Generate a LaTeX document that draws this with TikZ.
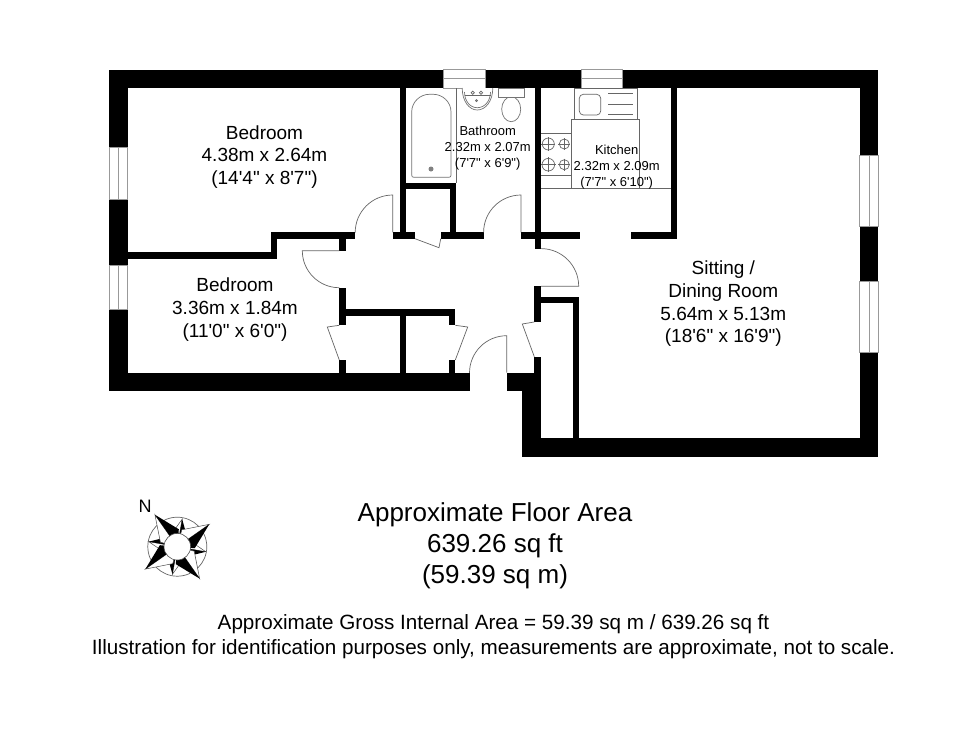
\documentclass[tikz,border=0pt]{standalone}
\usepackage{fontspec}
\usetikzlibrary{calc}
\setmainfont{Liberation Sans}
\newfontfamily\lblfont{Liberation Sans}
\newcommand{\wallrect}[4]{\fill[wallfill] (#1,#2) rectangle (#3,#4);}
\begin{document}
\begin{tikzpicture}[x=1pt,y=-1pt,
  wallfill/.style={fill=black,draw=none},
  thin line/.style={draw=black!60,line width=0.7pt},
  window line/.style={draw=black!40,line width=0.8pt},
  fixture/.style={draw=black!55,line width=0.7pt,fill=white},
  bigtext/.style={align=center,inner sep=0pt,text=black,font=\lblfont\fontsize{19}{22.8}\selectfont},
  smalltext/.style={align=center,inner sep=0pt,text=black,font=\lblfont\fontsize{13}{15.8}\selectfont},
  areatext/.style={align=center,inner sep=0pt,text=black,font=\lblfont\fontsize{26}{31}\selectfont},
  notetext/.style={align=center,inner sep=0pt,text=black,font=\lblfont\fontsize{20.65}{25}\selectfont}]
\useasboundingbox (0,0) rectangle (980,729);
\fill[white] (0,0) rectangle (980,729);
% ---- outer walls
\wallrect{109}{69.5}{878.3}{88}
\wallrect{109}{69.5}{127.5}{391}
\wallrect{859.7}{69.5}{878.3}{457}
\wallrect{109}{372.7}{469.5}{391}
\wallrect{506.7}{372.7}{540.7}{391}
\wallrect{522.3}{372.7}{540.7}{457}
\wallrect{522.3}{438.3}{878.3}{457}
% ---- bedroom divider
\wallrect{127.5}{252.3}{277.3}{259}
\wallrect{271}{232.3}{277.3}{259}
\wallrect{271}{232.3}{355}{238.7}
% ---- hall left wall and cupboards
\wallrect{339.3}{238.7}{346}{250.7}
\wallrect{339.3}{287.7}{346}{325.3}
\wallrect{339.3}{309}{455.3}{315.7}
\wallrect{449}{309}{455.3}{325.3}
\wallrect{399.7}{309}{406.3}{372.7}
\wallrect{339.3}{360}{346}{372.7}
\wallrect{449}{360}{455.3}{372.7}
% ---- bathroom walls
\wallrect{399.7}{88}{406.3}{238.7}
\wallrect{450}{183.3}{456.3}{238.7}
\wallrect{399.7}{183.3}{456.3}{189.3}
\wallrect{392.7}{232.3}{415}{238.7}
\wallrect{440.7}{232.3}{483.7}{238.7}
\wallrect{521}{232.3}{580}{238.7}
\wallrect{534.7}{88}{541}{248.7}
% ---- kitchen walls
\wallrect{630.7}{232.3}{677.3}{238.7}
\wallrect{671}{88}{677.3}{238.7}
% ---- right hall walls
\wallrect{534.3}{286.3}{540.7}{322}
\wallrect{534.3}{356.7}{540.7}{391}
\wallrect{534.3}{296.7}{579.3}{302.7}
\wallrect{573.3}{296.7}{579.3}{438.3}
% ---- windows
\foreach \ya/\yb in {147.3/199.3,265/309.3}{
  \draw[window line,fill=white] (109,\ya) rectangle (127.5,\yb);
  \draw[window line] (118,\ya) -- (118,\yb);
}
\foreach \ya/\yb in {155.3/226.7,281/352.7}{
  \draw[window line,fill=white] (859.7,\ya) rectangle (878.3,\yb);
  \draw[window line] (869,\ya) -- (869,\yb);
}
\foreach \xa/\xb in {443.3/485.7,581.3/622.7}{
  \draw[window line,fill=white] (\xa,69.5) rectangle (\xb,88);
  \draw[window line] (\xa,78.3) -- (\xb,78.3);
}
% ---- doors
\draw[thin line] (392.7,232.3) -- (392.7,195) arc[start angle=90,end angle=180,radius=37.5pt];
\draw[thin line] (339.3,250.7) -- (302.3,250.7) arc[start angle=180,end angle=270,radius=37pt];
\draw[thin line] (521,232.3) -- (521,195) arc[start angle=90,end angle=180,radius=37.4pt];
\draw[thin line] (541,286.3) -- (578.7,286.3) arc[start angle=0,end angle=90,radius=37.7pt];
\draw[thin line] (506.7,372.7) -- (506.7,335.7) arc[start angle=90,end angle=180,radius=37.2pt];
\draw[thin line] (415,238.7) -- (439,247.7) -- (440.7,238.7);
\draw[thin line] (339.3,325.3) -- (327.3,327) -- (339.3,360);
\draw[thin line] (455.3,325.3) -- (467.7,327) -- (455.3,360);
\draw[thin line] (534.3,322) -- (522.3,324) -- (534.3,356.7);
% ---- bathroom fixtures
\draw[thin line] (456.3,88) -- (456.3,183.3);
\draw[fixture,rounded corners=2pt] (411.7,177.3) -- (411.7,113.9) .. controls (411.7,102) and (420,94.3) .. (431.35,94.3) .. controls (442.7,94.3) and (451,102) .. (451,113.9) -- (451,177.3) -- cycle;
\fill[black!50] (431,169) circle[radius=2.5pt];
\draw[fixture] (462.2,88) .. controls (462.2,101) and (469,110) .. (477.3,110) .. controls (485.6,110) and (492.8,101) .. (492.8,88);
\draw[fixture] (464.5,92) .. controls (464.5,101) and (470,107.7) .. (477.3,107.7) .. controls (484.6,107.7) and (490.5,101) .. (490.5,92);
\draw[thin line] (464.5,95) -- (490.5,95);
\draw[thin line,fill=white] (472.7,92.7) circle[radius=1.6pt];
\draw[thin line,fill=white] (481,92.7) circle[radius=1.6pt];
\draw[thin line] (476.5,100.7) circle[radius=1pt];
\draw[fixture] (511.2,109.2) ellipse[x radius=9.5pt,y radius=12.5pt];
\draw[fixture] (498.3,88) rectangle (524.3,97.7);
% ---- kitchen fixtures
\draw[thin line] (574.3,88) rectangle (637.3,119.3);
\draw[thin line,rounded corners=4pt] (579.3,94.3) rectangle (600.7,115);
\foreach \y in {93.7,104,114.3}{\draw[thin line] (608.3,\y) -- (633.3,\y);}
\draw[thin line] (571.7,188.3) -- (571.7,119.3) -- (639.7,119.3) -- (639.7,188.3);
\draw[thin line] (541,188.3) -- (671,188.3);
\draw[thin line] (541,133.3) -- (571.7,133.3);
\draw[thin line] (541,175.3) -- (571.7,175.3);
\foreach \cx/\cy/\r in {548.3/144/6,564.3/144/5,548.3/164.7/6.3,564.3/164.7/5}{
  \draw[thin line] (\cx,\cy) circle[radius=\r pt];
  \draw[thin line] (\cx-\r-1,\cy) -- (\cx+\r+1,\cy);
  \draw[thin line] (\cx,\cy-\r-1) -- (\cx,\cy+\r+1);
}
% ---- compass
\coordinate (cc) at (177.3,546.7);
\draw[draw=black!60,line width=0.7pt] (cc) circle[radius=29.5pt];
\foreach \a/\l/\b/\w in {80/28/15/28,170/29/15/28,260/28/15/28,350/29/15/28,125/39/17.5/40,35/39/17.5/40,215/39/17.5/40,305/39/17.5/40}{
  \draw[draw=black!70,line width=0.5pt,fill=white]
    ($(cc)+(\a:\l pt)$) -- ($(cc)+(\a+\w:\b pt)$) -- (cc) -- cycle;
  \fill[black]
    ($(cc)+(\a:\l pt)$) -- ($(cc)+(\a-\w:\b pt)$) -- (cc) -- cycle;
}
\fill[white] (cc) circle[radius=13.3pt];
\draw[draw=black!70,line width=0.6pt] (cc) circle[radius=13.3pt];
\node[inner sep=0pt,font=\lblfont\fontsize{18}{20}\selectfont] (north) at (145,506) {N};
% ---- labels
\node[bigtext] (bed1) at (264.5,157) {Bedroom\\4.38m x 2.64m\\(14'4" x 8'7")};
\node[bigtext] (bed2) at (235,309.8) {Bedroom\\3.36m x 1.84m\\(11'0" x 6'0")};
\node[smalltext] (bath) at (487.7,148) {Bathroom\\2.32m x 2.07m\\(7'7" x 6'9")};
\node[smalltext] (kit) at (616.7,167) {Kitchen\\2.32m x 2.09m\\(7'7" x 6'10")};
\node[bigtext] (sit) at (723.3,303.7) {Sitting /\\Dining Room\\5.64m x 5.13m\\(18'6" x 16'9")};
\node[areatext] (area) at (495,545.5) {Approximate Floor Area\\639.26 sq ft\\(59.39 sq m)};
\node[notetext] (note) at (493.5,636.5) {Approximate Gross Internal Area = 59.39 sq m / 639.26 sq ft\\Illustration for identification purposes only, measurements are approximate, not to scale.};
\end{tikzpicture}
\end{document}
